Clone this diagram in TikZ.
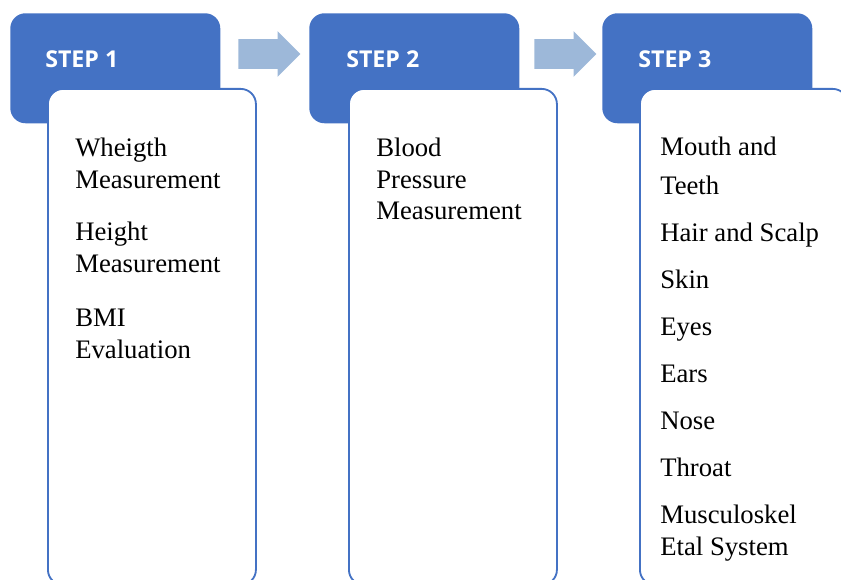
\documentclass[tikz,border=0pt]{standalone}
\usepackage{fontspec}
\setmainfont{Liberation Serif}
\setsansfont{Open Sans}
\usepackage{tikz}
\usetikzlibrary{calc}
\usetikzlibrary{positioning}
\usetikzlibrary{shapes.arrows}

\definecolor{StepBlue}{HTML}{4472C4}
\definecolor{ArrowBlue}{HTML}{9DB8D9}

% lines of one item, baseline on the first line
\newcommand{\itemlines}[1]{\begin{tabular}[t]{@{}l@{}}#1\end{tabular}}

\begin{document}
\begin{tikzpicture}[
	stephead/.style={rectangle, fill=StepBlue, rounded corners=0.38cm, minimum height=2.75cm, minimum width=5.25cm, anchor=north west, inner sep=0},
	stepbody/.style={rectangle, draw=StepBlue, line width=1.3pt, fill=white, rounded corners=0.38cm, minimum height=12.4cm, minimum width=5.2cm, anchor=north west, inner sep=0},
	steplabel/.style={anchor=base west, inner sep=0, text=white, font=\sffamily\bfseries\fontsize{16.5pt}{20pt}\selectfont},
	stepitem/.style={anchor=base west, inner sep=0, font=\fontsize{19pt}{22.4pt}\selectfont},
	steparrow/.style={single arrow, fill=ArrowBlue, inner xsep=0, inner ysep=0.3625cm, minimum height=1.55cm, single arrow head extend=0.2cm, anchor=west}
]

%\draw[step=1cm, gray, very thin, dotted] (0,0) grid (21,14);
\useasboundingbox (0,0) rectangle (21.025,14.5);
\clip (0,0) rectangle (21.025,14.5);

% step 1
\node at (0.25,14.175) [stephead] (head1) {};
\node at (1.175,12.3) [stepbody] (body1) {};
\node at ($(head1.north west)+(0.875,-1.375)$) [steplabel] (label1) {STEP 1};

% step 2
\node at (7.725,14.175) [stephead] (head2) {};
\node at (8.7,12.3) [stepbody] (body2) {};
\node at ($(head2.north west)+(0.925,-1.375)$) [steplabel] (label2) {STEP 2};

% step 3
\node at (15.05,14.175) [stephead] (head3) {};
\node at (15.975,12.3) [stepbody] (body3) {};
\node at ($(head3.north west)+(0.9,-1.375)$) [steplabel] (label3) {STEP 3};

% arrows between the steps
\node at (5.95,13.15) [steparrow] (arrow12) {};
\node at (13.35,13.15) [steparrow] (arrow23) {};

% items of step 1
\node at (1.875,10.575) [stepitem] (weight) {\itemlines{Wheigth\\Measurement}};
\node at (1.875,8.475) [stepitem] (height) {\itemlines{Height\\Measurement}};
\node at (1.875,6.325) [stepitem] (bmi) {\itemlines{BMI\\Evaluation}};

% items of step 2
\node at (9.4,10.575) [stepitem] (blood) {\itemlines{Blood\\Pressure\\Measurement}};

% items of step 3
\node at (16.5,10.6) [stepitem] (mouth) {\itemlines{Mouth and\\[5.3pt]Teeth}};
\node at (16.5,8.45) [stepitem] (hair) {Hair and Scalp};
\node at (16.5,7.275) [stepitem] (skin) {Skin};
\node at (16.5,6.1) [stepitem] (eyes) {Eyes};
\node at (16.5,4.925) [stepitem] (ears) {Ears};
\node at (16.5,3.75) [stepitem] (nose) {Nose};
\node at (16.5,2.575) [stepitem] (throat) {Throat};
\node at (16.5,1.4) [stepitem] (muscle) {\itemlines{Musculoskel\\Etal System}};

\end{tikzpicture}
\end{document}
